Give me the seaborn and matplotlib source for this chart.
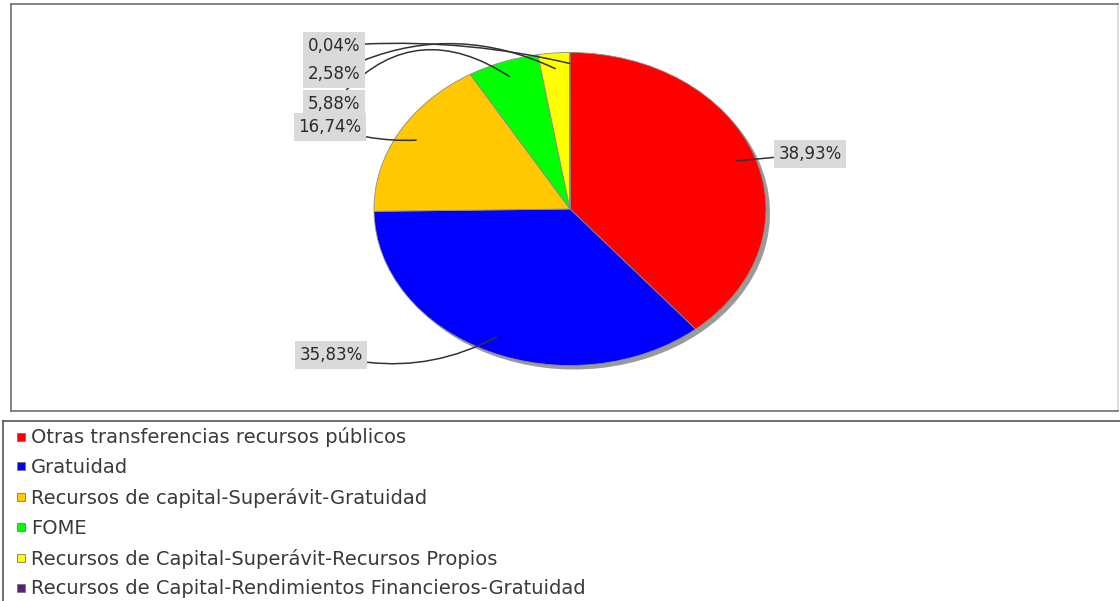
import numpy as np
import matplotlib
matplotlib.use("Agg")
import matplotlib.pyplot as plt
from matplotlib.lines import Line2D
import seaborn as sns

# data
categories = ["Otras transferencias recursos públicos",
              "Gratuidad",
              "Recursos de capital-Superávit-Gratuidad",
              "FOME",
              "Recursos de Capital-Superávit-Recursos Propios",
              "Recursos de Capital-Rendimientos Financieros-Gratuidad"]
shares = [38.93, 35.83, 16.74, 5.88, 2.58, 0.04]
slice_colors = ["#ff0000", "#0000ff", "#ffc800", "#00ff00", "#ffff00", "#5b1f7a"]

sns.set_theme(style="white")
plt.rcParams['font.family'] = ['DejaVu Sans']

W, H = 1120, 601
fig = plt.figure(figsize=(W / 100, H / 100), dpi=100)

# plot frame, in pixels
fx0, fy0, fx1, fy1 = 11, 4, 1118, 411
ax = fig.add_axes([fx0 / W, (H - fy1) / H, (fx1 - fx0) / W, (fy1 - fy0) / H])

# pie drawn as an ellipse: horizontal / vertical radius in pixels
cx, cy = 570, 209
rx, ry = 196, 156.5

pal = sns.color_palette(slice_colors)

# shadow
ax.pie(shares, colors=["#9a9a9a"] * len(shares), startangle=90, counterclock=False,
       radius=1, center=(4 / rx, -4 / ry), frame=True,
       wedgeprops=dict(linewidth=0))
wedges, _ = ax.pie(shares, colors=pal, startangle=90, counterclock=False,
                   radius=1, center=(0, 0), frame=True,
                   wedgeprops=dict(edgecolor="#8c8c8c", linewidth=0.6))
ax.set_aspect("auto")
ax.set_xlim((fx0 - cx) / rx, (fx1 - cx) / rx)
ax.set_ylim((cy - fy1) / ry, (cy - fy0) / ry)
ax.set_xticks([])
ax.set_yticks([])
for s in ax.spines.values():
    s.set_color("#6e6e6e")
    s.set_linewidth(1.2)
ax.spines["right"].set_color("#d8d8d8")

# label layout (pixel positions of label centres) and curve bends
label_pos = [(810, 154), (331, 355), (330, 127), (334, 104), (334, 74), (334, 46)]
label_rad = [0.0, 0.2, 0.1, -0.45, -0.25, -0.08]

for w, val, (px, py), rad in zip(wedges, shares, label_pos, label_rad):
    mid = np.deg2rad((w.theta1 + w.theta2) / 2)
    r_in = 0.9 if val > 1 else 0.93
    anchor = (r_in * np.cos(mid), r_in * np.sin(mid))
    txt = f"{val:.2f}%".replace(".", ",")
    ax.annotate(txt, xy=anchor, xytext=((px - cx) / rx, (cy - py) / ry),
                ha="center", va="center", fontsize=12, color="#2b2b2b",
                bbox=dict(boxstyle="square,pad=0.28", fc="#dadada", ec="none"),
                arrowprops=dict(arrowstyle="-", color="#333333", lw=1.1,
                                connectionstyle=f"arc3,rad={rad}",
                                shrinkA=0, shrinkB=0))

# legend box
lx0, ly0 = 3, 421
lax = fig.add_axes([lx0 / W, 0, (W - lx0) / W, (H - ly0) / H])
lax.set_xticks([])
lax.set_yticks([])
for s in lax.spines.values():
    s.set_color("#555555")
    s.set_linewidth(1.2)
lax.spines["bottom"].set_visible(False)
lax.spines["right"].set_visible(False)

handles = [Line2D([], [], marker="s", linestyle="none", markersize=5.5,
                  markerfacecolor=c, markeredgecolor="#777777", markeredgewidth=0.6)
           for c in pal]
lax.legend(handles, categories, loc="upper left", bbox_to_anchor=(0.0, 1.04),
           frameon=False, fontsize=14, labelcolor="#3a3a3a",
           handlelength=0.45, handletextpad=0.3, labelspacing=0.555,
           borderaxespad=0.3)

fig.savefig("out.png", dpi=100)
